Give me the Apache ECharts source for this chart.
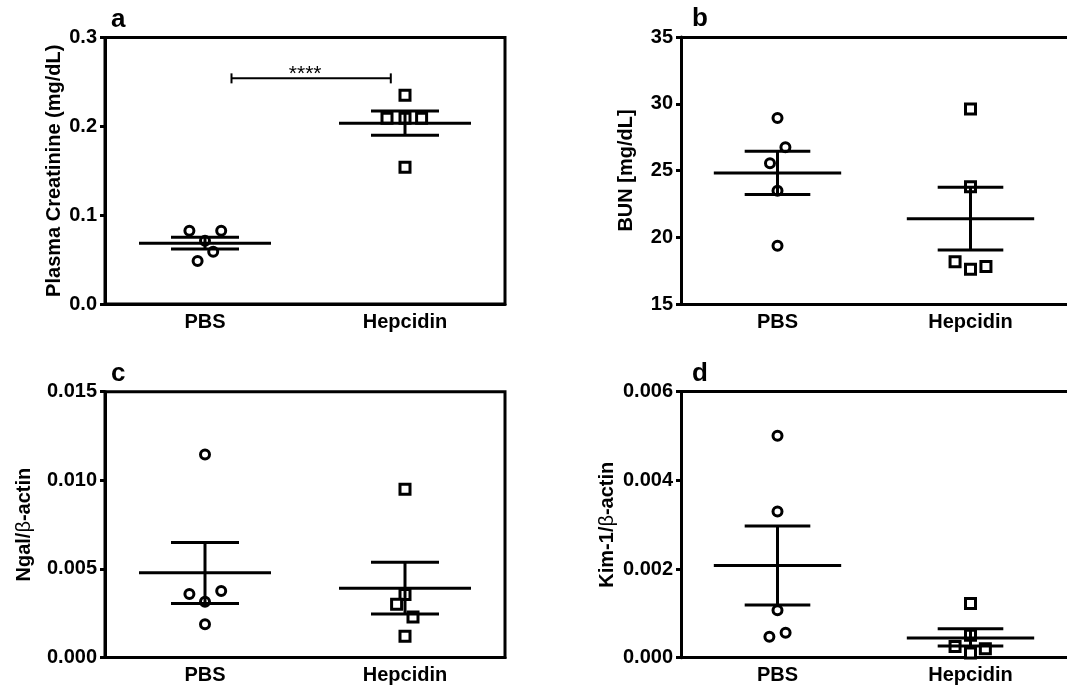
<!DOCTYPE html>
<html>
<head>
<meta charset="utf-8">
<script src="https://cdn.jsdelivr.net/npm/echarts@6/dist/echarts.min.js"></script>
<style>
  html, body { margin: 0; padding: 0; background: #fff; }
  #main { width: 1067px; height: 694px; }
</style>
</head>
<body>
<div id="main"></div>
<script>
var groups = ['PBS', 'Hepcidin'];

// a - plasma creatinine
var creatTicks = [0.0, 0.1, 0.2, 0.3];
var creatPBS = [0.0825, 0.0825, 0.0713, 0.0589, 0.0484];
var creatPBSJit = [-0.078, 0.081, 0, 0.041, -0.037];
var creatHep = [0.235, 0.209, 0.209, 0.209, 0.154];
var creatHepJit = [0, -0.09, 0, 0.083, 0];
var creatMean = [0.0683, 0.2034];
var creatSemLo = [0.0619, 0.1899];
var creatSemHi = [0.0751, 0.2173];
var creatSig = [0.1325, 0.929, 0.254]; // from x, to x, height

// b - BUN
var bunTicks = [15, 20, 25, 30, 35];
var bunPBS = [28.94, 26.74, 25.54, 23.49, 19.36];
var bunPBSJit = [0, 0.041, -0.039, 0, 0];
var bunHep = [29.6, 23.78, 18.17, 17.6, 17.8];
var bunHepJit = [0, 0, -0.08, 0, 0.08];
var bunMean = [24.81, 21.38];
var bunSemLo = [23.21, 19.05];
var bunSemHi = [26.44, 23.75];

// c - Ngal / beta-actin
var ngalTicks = [0.000, 0.005, 0.010, 0.015];
var ngalPBS = [0.01146, 0.00358, 0.00375, 0.00314, 0.00188];
var ngalPBSJit = [0, -0.078, 0.081, 0, 0];
var ngalHep = [0.0095, 0.00356, 0.00301, 0.00229, 0.0012];
var ngalHepJit = [0, 0, -0.042, 0.04, 0];
var ngalMean = [0.00478, 0.00391];
var ngalSemLo = [0.00305, 0.00245];
var ngalSemHi = [0.00649, 0.00538];

// d - Kim-1 / beta-actin
var kimTicks = [0.000, 0.002, 0.004, 0.006];
var kimPBS = [0.005006, 0.0033, 0.00107, 0.000565, 0.000474];
var kimPBSJit = [0, 0, 0, 0.042, -0.042];
var kimHep = [0.00122, 0.000504, 0.000255, 0.000203, 0.000105];
var kimHepJit = [0, 0, -0.08, 0.077, 0];
var kimMean = [0.00208, 0.000445];
var kimSemLo = [0.00119, 0.000262];
var kimSemHi = [0.00297, 0.000655];

var FONT = 'Liberation Sans, Arial, Helvetica, sans-serif';

var panels = [
  { letter: 'a', lx: 111, ly: 23, left: 105, top: 37.5, height: 266.5, rightBorder: true,
    name: 'Plasma Creatinine (mg/dL)', nameGap: 41, ticks: creatTicks, dec: 1,
    pbs: creatPBS, pbsJit: creatPBSJit, hep: creatHep, hepJit: creatHepJit,
    mean: creatMean, lo: creatSemLo, hi: creatSemHi, sig: creatSig },
  { letter: 'b', lx: 692, ly: 22, left: 681, top: 37, height: 267, rightBorder: false,
    name: 'BUN [mg/dL]', nameGap: 45, ticks: bunTicks, dec: 0,
    pbs: bunPBS, pbsJit: bunPBSJit, hep: bunHep, hepJit: bunHepJit,
    mean: bunMean, lo: bunSemLo, hi: bunSemHi },
  { letter: 'c', lx: 111, ly: 377, left: 105, top: 391.7, height: 265.8, rightBorder: true,
    name: 'Ngal/{r|β}-actin', nameGap: 71, ticks: ngalTicks, dec: 3,
    pbs: ngalPBS, pbsJit: ngalPBSJit, hep: ngalHep, hepJit: ngalHepJit,
    mean: ngalMean, lo: ngalSemLo, hi: ngalSemHi },
  { letter: 'd', lx: 692, ly: 377, left: 681, top: 391.7, height: 266, rightBorder: false,
    name: 'Kim-1/{r|β}-actin', nameGap: 64, ticks: kimTicks, dec: 3,
    pbs: kimPBS, pbsJit: kimPBSJit, hep: kimHep, hepJit: kimHepJit,
    mean: kimMean, lo: kimSemLo, hi: kimSemHi }
];

var lineStyle3 = { color: '#000', width: 3 };

function errRender(params, api) {
  var x = api.value(0), m = api.value(1), lo = api.value(2), hi = api.value(3);
  var st = { stroke: '#000', lineWidth: 3, fill: null };
  function seg(a, b) {
    var p1 = api.coord(a), p2 = api.coord(b);
    return { type: 'line', shape: { x1: p1[0], y1: p1[1], x2: p2[0], y2: p2[1] }, style: st };
  }
  return { type: 'group', children: [
    seg([x - 0.33, m], [x + 0.33, m]),
    seg([x - 0.17, lo], [x + 0.17, lo]),
    seg([x - 0.17, hi], [x + 0.17, hi]),
    seg([x, lo], [x, hi])
  ] };
}

function sigRender(params, api) {
  var p1 = api.coord([api.value(0), api.value(2)]);
  var p2 = api.coord([api.value(1), api.value(2)]);
  var st = { stroke: '#000', lineWidth: 2 };
  return { type: 'group', children: [
    { type: 'line', shape: { x1: p1[0], y1: p1[1], x2: p2[0], y2: p2[1] }, style: st },
    { type: 'line', shape: { x1: p1[0], y1: p1[1] - 5, x2: p1[0], y2: p1[1] + 5 }, style: st },
    { type: 'line', shape: { x1: p2[0], y1: p2[1] - 5, x2: p2[0], y2: p2[1] + 5 }, style: st },
    { type: 'text', style: { text: '****', x: (p1[0] + p2[0]) / 2 - 6, y: p1[1] + 6,
      textAlign: 'center', textVerticalAlign: 'bottom', fill: '#000', font: '21px ' + FONT } }
  ] };
}

var grids = [], xAxes = [], yAxes = [], series = [], graphics = [];

panels.forEach(function (p, i) {
  grids.push({ left: p.left, top: p.top, width: 400, height: p.height,
    show: true, borderColor: p.rightBorder ? '#000' : 'transparent', borderWidth: 3,
    backgroundColor: 'transparent' });

  xAxes.push({ type: 'category', gridIndex: i, data: groups, boundaryGap: true, position: 'bottom',
    axisLine: { onZero: false, lineStyle: lineStyle3 },
    axisTick: { alignWithLabel: true, length: 5, lineStyle: lineStyle3 },
    axisLabel: { color: '#000', fontSize: 20, fontWeight: 'bold', fontFamily: FONT, margin: 8 },
    splitLine: { show: false } });
  xAxes.push({ type: 'value', gridIndex: i, min: -0.5, max: 1.5, show: false, position: 'bottom' });

  var t = p.ticks;
  yAxes.push({ type: 'value', gridIndex: i, position: 'left',
    min: t[0], max: t[t.length - 1], interval: t[1] - t[0],
    name: p.name, nameLocation: 'middle', nameGap: p.nameGap,
    nameTextStyle: { color: '#000', fontSize: 20, fontWeight: 'bold', fontFamily: FONT,
      rich: { r: { fontSize: 20, fontWeight: 'normal', fontFamily: FONT, color: '#000' } } },
    axisLine: { show: true, onZero: false, lineStyle: lineStyle3 },
    axisTick: { show: true, length: 5, lineStyle: lineStyle3 },
    axisLabel: { color: '#000', fontSize: 20, fontWeight: 'bold', fontFamily: FONT, margin: 8,
      formatter: (function (dec) { return function (v) { return v.toFixed(dec); }; })(p.dec) },
    splitLine: { show: false } });

  // top line for open-right panels
  if (!p.rightBorder) {
    xAxes.push({ type: 'value', gridIndex: i, min: -0.5, max: 1.5, position: 'top',
      axisLine: { show: true, onZero: false, lineStyle: lineStyle3 },
      axisTick: { show: false }, axisLabel: { show: false }, splitLine: { show: false } });
  }
  var valX = xAxes.length - (p.rightBorder ? 1 : 2);

  var symStyle = { color: '#fff', borderColor: '#000', borderWidth: 3, opacity: 1 };
  series.push({ type: 'scatter', xAxisIndex: valX, yAxisIndex: i, symbol: 'circle', symbolSize: 9,
    itemStyle: symStyle, z: 2, silent: true,
    data: p.pbs.map(function (v, k) { return [0 + p.pbsJit[k], v]; }) });
  series.push({ type: 'scatter', xAxisIndex: valX, yAxisIndex: i, symbol: 'rect', symbolSize: 10,
    itemStyle: symStyle, z: 2, silent: true,
    data: p.hep.map(function (v, k) { return [1 + p.hepJit[k], v]; }) });
  series.push({ type: 'custom', xAxisIndex: valX, yAxisIndex: i, renderItem: errRender, z: 5,
    clip: false, silent: true,
    encode: { x: 0, y: [1, 2, 3] },
    data: [0, 1].map(function (g) { return [g, p.mean[g], p.lo[g], p.hi[g]]; }) });
  if (p.sig) {
    series.push({ type: 'custom', xAxisIndex: valX, yAxisIndex: i, renderItem: sigRender, z: 5,
      clip: false, silent: true, encode: { x: [0, 1], y: 2 }, data: [p.sig] });
  }

  graphics.push({ type: 'text', left: p.lx, top: p.ly - 16,
    style: { text: p.letter, fill: '#000', font: 'bold 26px ' + FONT } });
});

var chart = echarts.init(document.getElementById('main'), null, { renderer: 'canvas' });
chart.setOption({
  animation: false,
  backgroundColor: '#fff',
  grid: grids,
  xAxis: xAxes,
  yAxis: yAxes,
  series: series,
  graphic: graphics
});
</script>
</body>
</html>
